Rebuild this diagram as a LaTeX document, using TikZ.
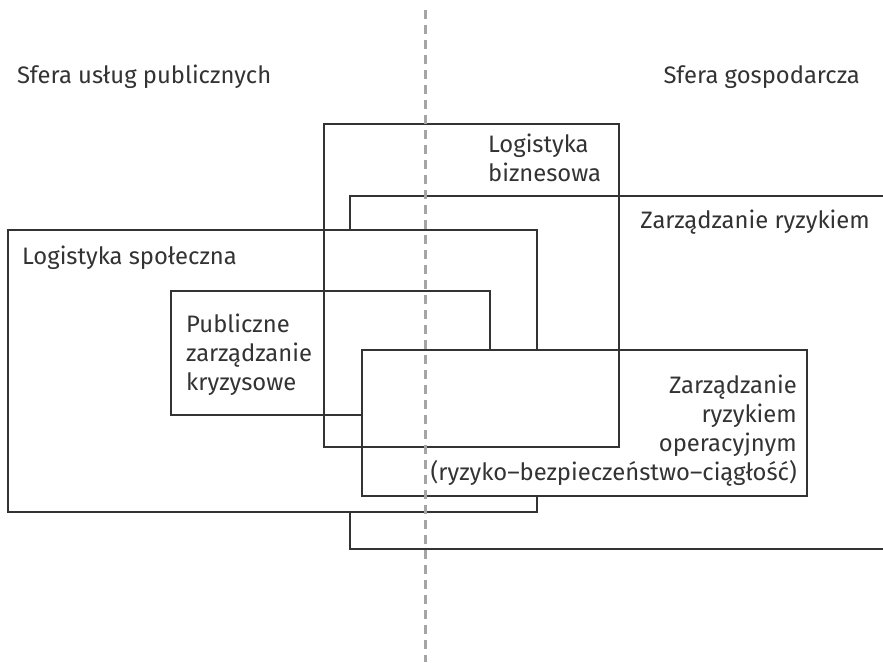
\documentclass[tikz,border=0pt]{standalone}
\usepackage{fontspec}
\setmainfont{Fira Sans}
\usepackage{xcolor}
\usepackage{tikz}
\usetikzlibrary{positioning}

\definecolor{boxgray}{HTML}{333333}
\definecolor{divgray}{HTML}{A5A5A5}

\begin{document}
\begin{tikzpicture}[x=1pt, y=-1pt,
    frame/.style={draw=boxgray, line width=1.3pt},
    lbl/.style={inner sep=0pt, text=boxgray, font=\fontsize{23.8}{29}\selectfont},
    divider/.style={draw=divgray, line width=3pt, dash pattern=on 9pt off 6pt}]
    \useasboundingbox (0,0) rectangle (883,662);

    % Risk management (open to the right)
    \draw[frame, fill=white] (883,196) -- (350,196) -- (350,549) -- (883,549);

    % Social logistics
    \filldraw[frame, fill=white] (8,230) rectangle (537,512);

    % Public crisis management
    \filldraw[frame, fill=white] (171,291) rectangle (490,415);

    % Operational risk management
    \filldraw[frame, fill=white] (362,350) rectangle (807,496);

    % Business logistics (on top, no fill)
    \draw[frame] (324,124) rectangle (619,447);

    % Labels (multi-line ones sit on their last baseline)
    \node[lbl, anchor=base west] (publicSphere) at (17,83) {Sfera usług publicznych};
    \node[lbl, anchor=base east] (businessSphere) at (860,83) {Sfera gospodarcza};
    \node[lbl, anchor=base west, align=left] (bizLog) at (488,181) {Logistyka\\biznesowa};
    \node[lbl, anchor=base east] (riskMgmt) at (870,228) {Zarządzanie ryzykiem};
    \node[lbl, anchor=base west] (socLog) at (22,264) {Logistyka społeczna};
    \node[lbl, anchor=base west, align=left] (crisisMgmt) at (186,390) {Publiczne\\zarządzanie\\kryzysowe};
    \node[lbl, anchor=base east, align=right] (opRisk) at (797,480)
        {Zarządzanie\\ryzykiem\\operacyjnym\\(ryzyko–bezpieczeństwo–ciągłość)};

    % Dividing line between the spheres
    \coordinate (divTop) at (425,10);
    \coordinate (divBot) at (425,662);
    \draw[divider] (divTop) -- (divBot);
\end{tikzpicture}
\end{document}
